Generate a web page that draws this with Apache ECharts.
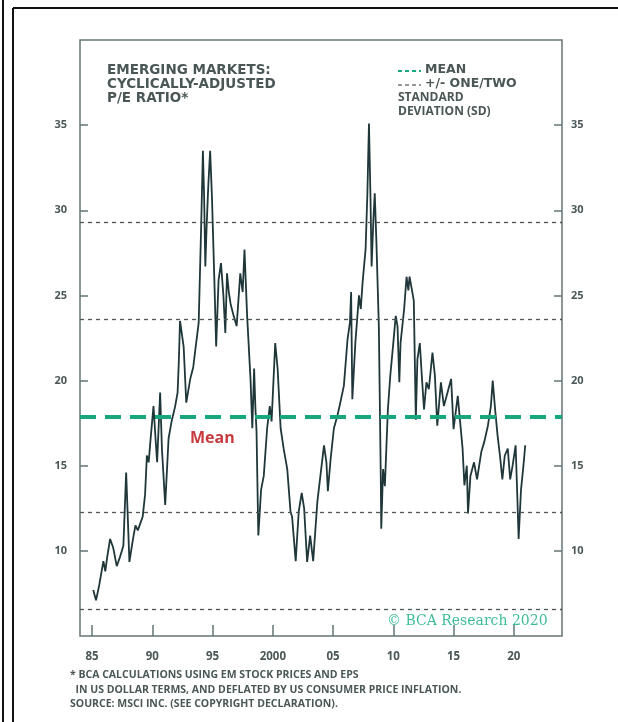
<!DOCTYPE html>
<html>
<head>
<meta charset="utf-8">
<script src="https://cdn.jsdelivr.net/npm/echarts@6/dist/echarts.min.js"></script>
<style>
  html, body { margin: 0; padding: 0; background: #fff; }
  #chart { width: 618px; height: 722px; }
</style>
</head>
<body>
<div id="chart"></div>
<script>
// fractional year of each reading
const dates = [
  1985.10, 1985.33, 1985.6, 1985.94, 1986.1, 1986.25, 1986.5, 1986.75, 1987.05, 1987.3,
  1987.6, 1987.83, 1988.1, 1988.4, 1988.6, 1988.8, 1989.0, 1989.2, 1989.4, 1989.55,
  1989.7, 1989.85, 1990.1, 1990.25, 1990.4, 1990.65, 1990.8, 1991.07, 1991.35, 1991.6,
  1991.9, 1992.1, 1992.2, 1992.3, 1992.6, 1992.82, 1993.15, 1993.4, 1993.57, 1993.85,
  1994.05, 1994.2, 1994.3, 1994.4, 1994.5, 1994.65, 1994.8, 1994.95, 1995.15, 1995.3,
  1995.5, 1995.7, 1995.9, 1996.06, 1996.2, 1996.35, 1996.5, 1996.75, 1997.0, 1997.3,
  1997.5, 1997.65, 1997.87, 1998.15, 1998.3, 1998.45, 1998.55, 1998.65, 1998.8, 1999.03,
  1999.25, 1999.53, 1999.75, 1999.9, 2000.2, 2000.4, 2000.65, 2000.9, 2001.2, 2001.47,
  2001.6, 2001.9, 2002.15, 2002.4, 2002.6, 2002.85, 2003.1, 2003.35, 2003.7, 2003.95,
  2004.25, 2004.45, 2004.57, 2004.8, 2005.07, 2005.35, 2005.6, 2005.9, 2006.2, 2006.4,
  2006.5, 2006.6, 2006.85, 2007.15, 2007.3, 2007.45, 2007.7, 2007.85, 2007.98, 2008.1,
  2008.2, 2008.35, 2008.46, 2008.6, 2008.8, 2008.96, 2009.0, 2009.15, 2009.3, 2009.55,
  2009.75, 2010.0, 2010.2, 2010.35, 2010.5, 2010.6, 2010.9, 2011.1, 2011.25, 2011.35,
  2011.5, 2011.7, 2011.87, 2012.0, 2012.2, 2012.4, 2012.55, 2012.75, 2012.95, 2013.25,
  2013.45, 2013.65, 2013.95, 2014.2, 2014.5, 2014.8, 2015.0, 2015.35, 2015.55, 2015.75,
  2015.9, 2016.1, 2016.2, 2016.4, 2016.7, 2016.95, 2017.3, 2017.55, 2017.85, 2018.1,
  2018.25, 2018.45, 2018.65, 2018.85, 2019.05, 2019.25, 2019.5, 2019.7, 2019.9, 2020.15,
  2020.3, 2020.4, 2020.6, 2020.8, 2020.95
];

// cyclically-adjusted P/E
const capeValues = [
  7.7, 7.1, 8.0, 9.4, 8.8, 9.6, 10.7, 10.2, 9.1, 9.6,
  10.3, 14.6, 9.35, 10.7, 11.5, 11.2, 11.6, 12.0, 13.3, 15.6,
  15.2, 16.5, 18.5, 16.8, 15.2, 19.3, 16.0, 12.7, 16.6, 17.6,
  18.5, 19.3, 21.1, 23.5, 22.0, 18.7, 20.1, 20.8, 21.8, 23.4,
  28.9, 33.5, 30.8, 26.7, 28.9, 31.5, 33.5, 30.8, 25.9, 22.0,
  25.9, 26.9, 25.0, 22.8, 26.3, 25.2, 24.5, 23.8, 23.2, 26.3,
  25.2, 27.7, 23.8, 20.1, 17.2, 20.7, 18.5, 17.0, 10.9, 13.6,
  14.4, 17.2, 18.5, 17.6, 22.2, 20.7, 17.2, 16.0, 14.8, 12.3,
  12.0, 9.4, 12.3, 13.4, 12.5, 9.35, 10.9, 9.4, 12.9, 14.4,
  16.2, 15.2, 13.5, 15.4, 17.2, 17.9, 18.7, 19.7, 22.4, 23.4,
  25.2, 18.9, 22.2, 25.0, 24.2, 25.75, 27.7, 31.0, 35.1, 31.0,
  26.7, 29.5, 31.0, 28.1, 23.2, 14.4, 11.3, 14.8, 13.8, 18.3,
  20.3, 22.2, 23.8, 23.2, 19.9, 22.2, 24.2, 26.1, 25.3, 26.1,
  25.5, 24.7, 17.7, 21.25, 22.2, 19.9, 18.3, 19.9, 19.5, 21.65,
  20.3, 17.35, 19.9, 18.5, 19.3, 20.1, 17.15, 19.1, 17.55, 16.0,
  13.85, 15.0, 12.2, 14.4, 15.2, 14.2, 15.8, 16.4, 17.35, 18.5,
  20.0, 18.3, 16.8, 15.6, 14.2, 15.6, 16.0, 14.2, 15.0, 16.2,
  13.05, 10.7, 13.6, 15.0, 16.2
];

const meanLevel = 17.9;
const sdLevels = [6.6, 12.25, 23.6, 29.3];

const yearTicks = [1985, 1990, 1995, 2000, 2005, 2010, 2015, 2020];
const yearLabels = ['85', '90', '95', '2000', '05', '10', '15', '20'];
const yTicks = [10, 15, 20, 25, 30, 35];

const chart = echarts.init(document.getElementById('chart'));

const textGray = '#4b5757';
const frameGray = '#667474';
const lineColor = '#20373a';
const meanGreen = '#17a67e';
const baseFont = '"Open Sans", "Noto Sans", sans-serif';
const wideFont = '"DejaVu Sans", sans-serif';

const seriesData = dates.map((d, i) => [d, capeValues[i]]);

const yAxisCommon = {
  type: 'value',
  min: 5,
  max: 40,
  interval: 5,
  splitLine: { show: false },
  axisLine: { show: false },
  axisTick: {
    show: true,
    inside: true,
    length: 8,
    customValues: yTicks,
    lineStyle: { color: frameGray, width: 1.5 }
  },
  axisLabel: {
    customValues: yTicks,
    color: textGray,
    fontFamily: baseFont,
    fontWeight: 'bold',
    fontSize: 11
  }
};

const option = {
  animation: false,
  backgroundColor: '#fff',
  grid: {
    left: 80, top: 40, width: 482, height: 596,
    show: true,
    borderColor: frameGray,
    borderWidth: 1.5,
    backgroundColor: 'transparent'
  },
  xAxis: {
    type: 'value',
    min: 1984,
    max: 2024,
    splitLine: { show: false },
    axisLine: { show: false },
    axisTick: {
      show: true,
      inside: true,
      length: 11,
      customValues: yearTicks,
      lineStyle: { color: frameGray, width: 1.5 }
    },
    axisLabel: {
      customValues: yearTicks,
      formatter: v => yearLabels[yearTicks.indexOf(Math.round(v))] || '',
      margin: 15,
      color: textGray,
      fontFamily: baseFont,
      fontWeight: 'bold',
      fontSize: 11.5
    }
  },
  yAxis: [
    Object.assign({}, yAxisCommon, {
      position: 'left',
      axisLabel: Object.assign({}, yAxisCommon.axisLabel, { margin: 13 })
    }),
    Object.assign({}, yAxisCommon, {
      position: 'right',
      axisLabel: Object.assign({}, yAxisCommon.axisLabel, { margin: 9 })
    })
  ],
  series: [
    {
      type: 'line',
      data: seriesData,
      showSymbol: false,
      symbol: 'none',
      lineStyle: { color: lineColor, width: 1.8 },
      z: 3,
      markLine: {
        silent: true,
        symbol: 'none',
        label: { show: false },
        data: sdLevels.map(v => ({
          yAxis: v,
          lineStyle: { color: '#4d5656', width: 1.3, type: [4, 4] }
        })).concat([{
          yAxis: meanLevel,
          lineStyle: { color: meanGreen, width: 4, type: [16, 9] }
        }])
      }
    }
  ],
  graphic: [
    // outer page frame
    { type: 'line', shape: { x1: 3, y1: 0, x2: 3, y2: 722 }, style: { stroke: '#111', lineWidth: 2 } },
    { type: 'line', shape: { x1: 13, y1: 8, x2: 618, y2: 8 }, style: { stroke: '#111', lineWidth: 2 } },
    { type: 'line', shape: { x1: 13, y1: 8, x2: 13, y2: 722 }, style: { stroke: '#111', lineWidth: 2 } },
    // title
    {
      type: 'text', left: 107, top: 63,
      style: {
        text: 'EMERGING MARKETS:\nCYCLICALLY-ADJUSTED\nP/E RATIO*',
        fill: textGray, font: 'bold 13.5px ' + wideFont, lineHeight: 14
      }
    },
    // legend
    { type: 'line', shape: { x1: 398, y1: 71, x2: 421, y2: 71 }, style: { stroke: meanGreen, lineWidth: 2, lineDash: [4, 3] } },
    { type: 'line', shape: { x1: 398, y1: 85, x2: 421, y2: 85 }, style: { stroke: '#777', lineWidth: 1.5, lineDash: [4, 3] } },
    {
      type: 'text', left: 425, top: 63,
      style: { text: 'MEAN\n+/- ONE/TWO', fill: textGray, font: 'bold 12.5px ' + wideFont, lineHeight: 14 }
    },
    {
      type: 'text', left: 398, top: 91,
      style: { text: 'STANDARD\nDEVIATION (SD)', fill: textGray, font: 'bold 12px ' + baseFont, lineHeight: 14 }
    },
    // mean label
    {
      type: 'text', left: 190, top: 430,
      style: { text: 'Mean', fill: '#c73a3f', font: 'bold 16px ' + baseFont }
    },
    // copyright
    {
      type: 'text', left: 387, top: 614,
      style: { text: '© BCA Research 2020', fill: '#3dbd98', font: '14px "DejaVu Serif", serif' }
    },
    // footnote
    {
      type: 'text', left: 70, top: 668,
      style: {
        text: '* BCA CALCULATIONS USING EM STOCK PRICES AND EPS\n  IN US DOLLAR TERMS, AND DEFLATED BY US CONSUMER PRICE INFLATION.\nSOURCE: MSCI INC. (SEE COPYRIGHT DECLARATION).',
        fill: textGray, font: 'bold 10.5px ' + baseFont, lineHeight: 14.5
      }
    }
  ]
};

chart.setOption(option);
</script>
</body>
</html>
